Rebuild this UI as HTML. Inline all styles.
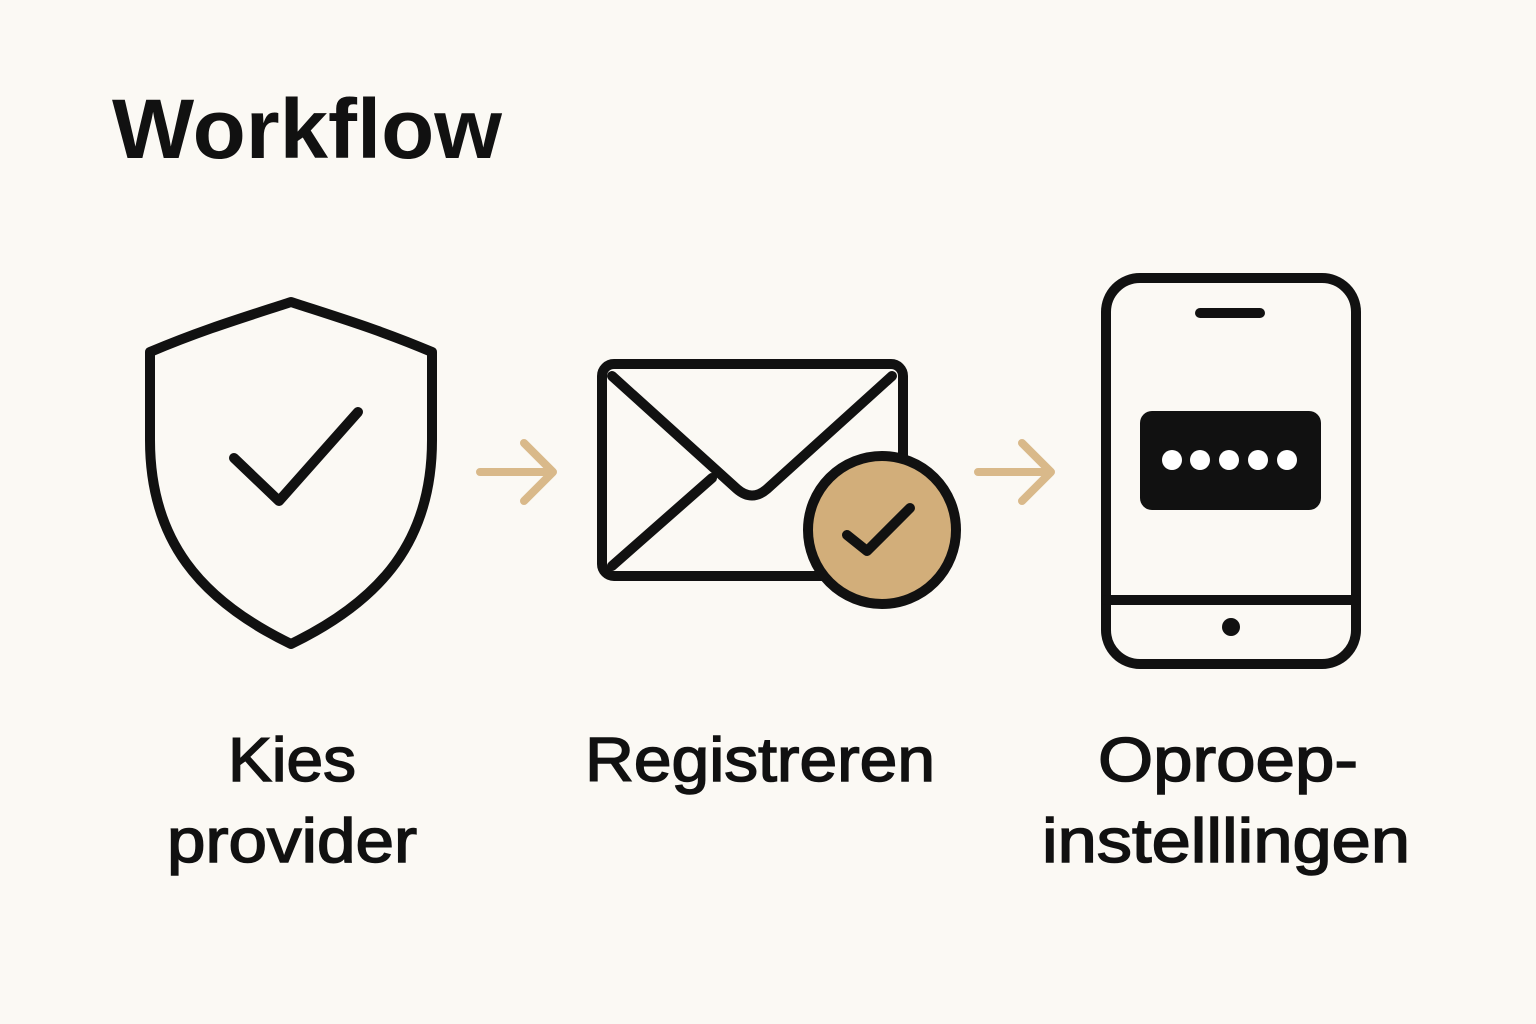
<!DOCTYPE html>
<html><head><meta charset="utf-8"><style>
html,body{margin:0;padding:0;background:#fbf9f4;}
svg{display:block}
text{font-family:"Liberation Sans",sans-serif;fill:#111}
</style></head><body>
<svg width="1536" height="1024" viewBox="0 0 1536 1024">
<rect width="1536" height="1024" fill="#fbf9f4"/>
<text x="112" y="158" font-size="84" font-weight="bold" textLength="390" lengthAdjust="spacingAndGlyphs">Workflow</text>
<g fill="none" stroke="#111" stroke-width="10" stroke-linecap="round" stroke-linejoin="round">
<path d="M150,352 L150,440 C150,540 200,600 291,644 C382,600 432,540 432,440 L432,352 C380,330 340,318 291,302 C242,318 202,330 150,352 Z"/>
<path d="M234,458 L279,501 L358,412"/>
<rect x="602" y="364" width="301" height="212" rx="12"/>
<path d="M612,376 L737,489 Q752,502 767,489 L892,376"/>
<path d="M612,566 L712,478"/>
</g>
<g stroke="#d9b98a" stroke-width="8" fill="none" stroke-linecap="round" stroke-linejoin="round">
<path d="M480,472 L553,472 M524,443 L553,472 L524,501"/>
<path d="M978,472 L1051,472 M1022,443 L1051,472 L1022,501"/>
</g>
<circle cx="882" cy="530" r="74" fill="#d2ae7a" stroke="#111" stroke-width="10"/>
<path d="M847,535 L867,551 L910,508" fill="none" stroke="#111" stroke-width="10" stroke-linecap="round" stroke-linejoin="round"/>
<g fill="none" stroke="#111" stroke-width="10" stroke-linecap="round">
<rect x="1106" y="278" width="250" height="386" rx="34"/>
<line x1="1200" y1="313" x2="1260" y2="313"/>
<line x1="1106" y1="600" x2="1356" y2="600"/>
</g>
<circle cx="1231" cy="627" r="9" fill="#111"/>
<rect x="1140" y="411" width="181" height="99" rx="12" fill="#111"/>
<g fill="#fff"><circle cx="1172" cy="460" r="10"/><circle cx="1200" cy="460" r="10"/><circle cx="1229" cy="460" r="10"/><circle cx="1258" cy="460" r="10"/><circle cx="1287" cy="460" r="10"/></g>
<g font-size="62" stroke="#111" stroke-width="1.5">
<text x="228" y="781" textLength="128" lengthAdjust="spacingAndGlyphs">Kies</text>
<text x="167" y="862" textLength="250" lengthAdjust="spacingAndGlyphs">provider</text>
<text x="585" y="781" textLength="350" lengthAdjust="spacingAndGlyphs">Registreren</text>
<text x="1098" y="781" textLength="260" lengthAdjust="spacingAndGlyphs">Oproep-</text>
<text x="1042" y="862" textLength="368" lengthAdjust="spacingAndGlyphs">instelllingen</text>
</g>
</svg>
</body></html>
